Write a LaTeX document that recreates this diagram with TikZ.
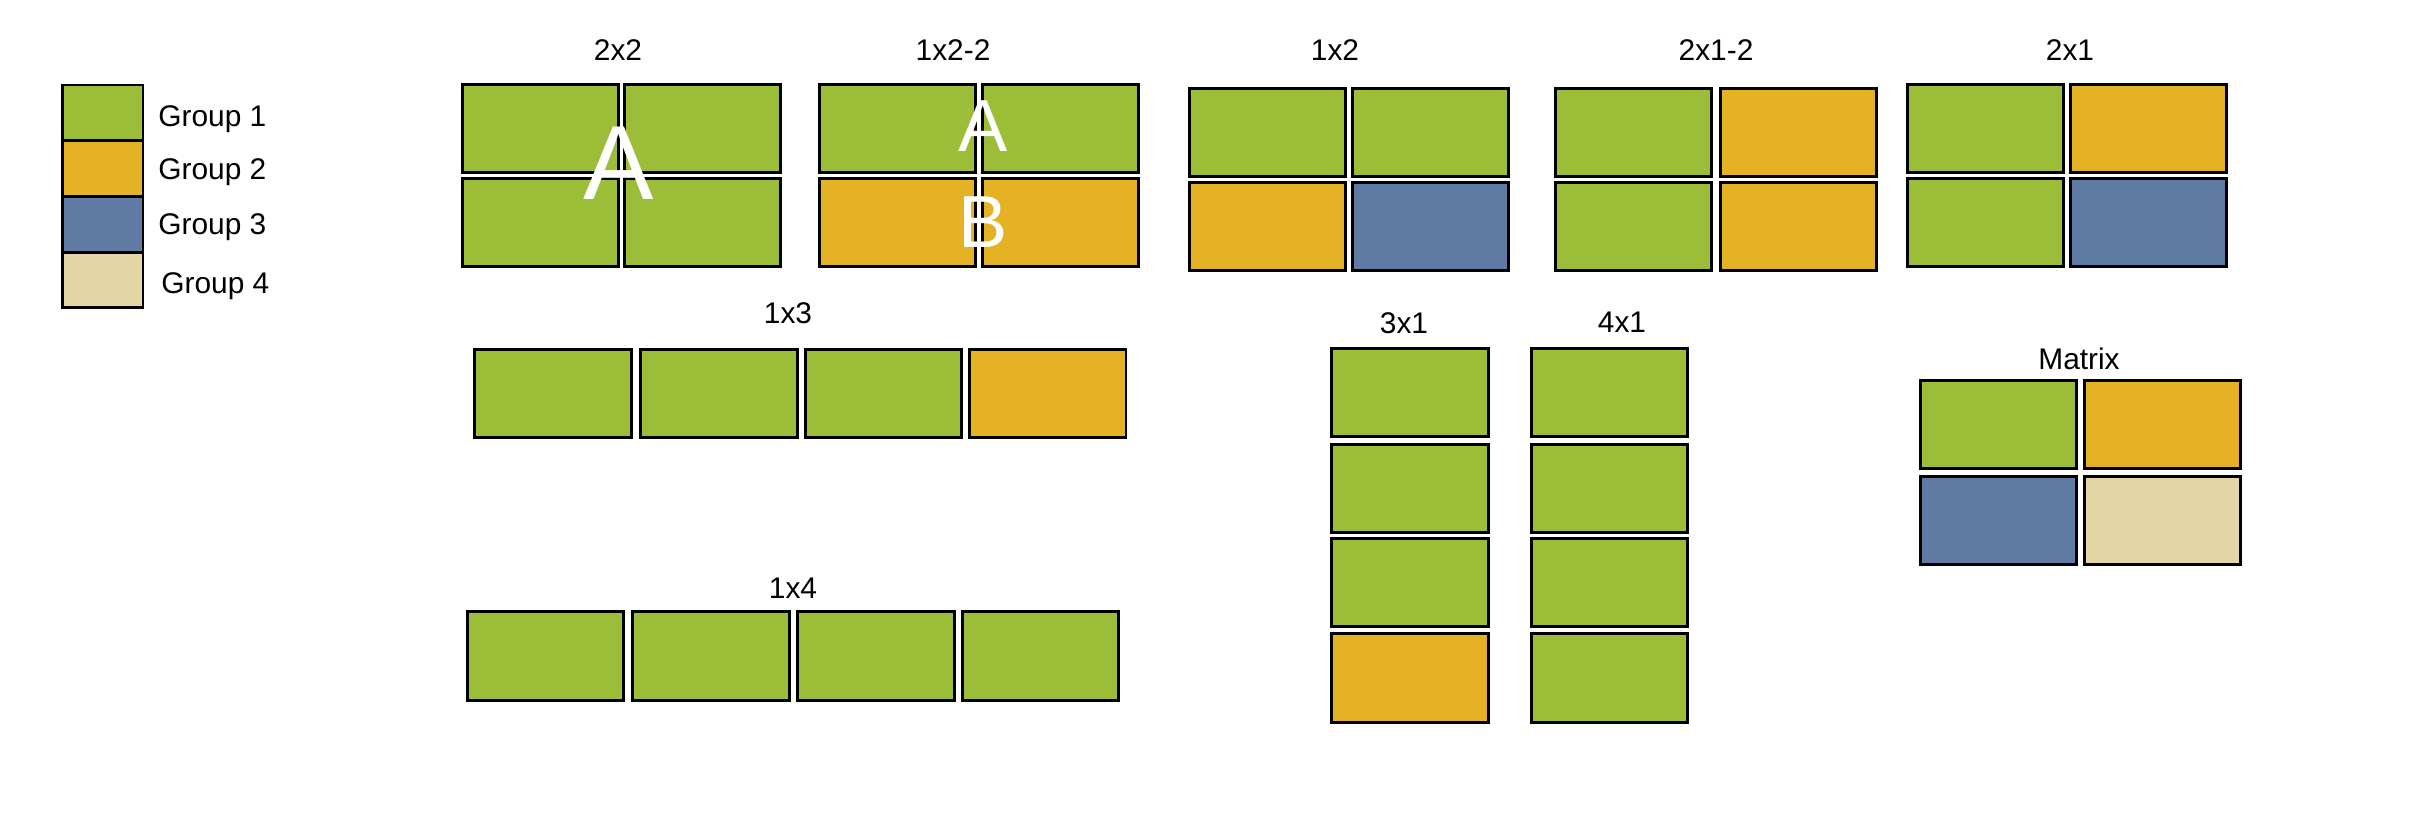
\documentclass[tikz,border=0pt]{standalone}
\usepackage{fontspec}
\setmainfont{Liberation Sans}
\usetikzlibrary{positioning}
\definecolor{grpone}{RGB}{156,189,56}
\definecolor{grptwo}{RGB}{229,178,38}
\definecolor{grpthree}{RGB}{95,123,163}
\definecolor{grpfour}{RGB}{227,214,164}

\begin{document}
\begin{tikzpicture}[x=0.2mm, y=-0.2mm,
  every node/.style={font=\fontsize{17}{20}\selectfont},
  cell/.style={draw=black, line width=1.5pt, inner sep=0pt,
               minimum width=31.3mm, minimum height=17.7mm},
  gone/.style={cell, fill=grpone},
  gtwo/.style={cell, fill=grptwo},
  gthree/.style={cell, fill=grpthree},
  gfour/.style={cell, fill=grpfour},
  swatch/.style={draw=black, line width=1.5pt, inner sep=0pt,
                 minimum width=16.1mm, minimum height=11mm},
  keytext/.style={anchor=base west, inner sep=0pt},
  blabel/.style={inner sep=0pt, text=black},
  bigletter/.style={text=white, inner sep=0pt, font=\fontsize{#1}{#1}\selectfont}
]
  \useasboundingbox (0,0) rectangle (2428,822);

  % --- Legend ---
  \node[swatch, fill=grpone]   (key1) at (102.8,112.5) {};
  \node[swatch, fill=grptwo]   (key2) at (102.8,168.5) {};
  \node[swatch, fill=grpthree] (key3) at (102.8,224.5) {};
  \node[swatch, fill=grpfour]  (key4) at (102.8,280)   {};
  \node[keytext] (key1t) at (158,126) {Group 1};
  \node[keytext] (key2t) at (158,179) {Group 2};
  \node[keytext] (key3t) at (158,234) {Group 3};
  \node[keytext] (key4t) at (161,293) {Group 4};

  % --- 2x2 ---
  \node[blabel] (l22) at (618,50) {2x2};
  \node[gone] (c22a) at (540.5,128.5) {};
  \node[gone] (c22b) at (702.5,128.5) {};
  \node[gone] (c22c) at (540.5,222.5) {};
  \node[gone] (c22d) at (702.5,222.5) {};
  \node[bigletter=60] (c22A) at (619,163.5) {A};

  % --- 1x2-2 ---
  \node[blabel] (l122) at (953,50) {1x2-2};
  \node[gone] (c122a) at (897.5,128.5) {};
  \node[gone] (c122b) at (1060.5,128.5) {};
  \node[gtwo] (c122c) at (897.5,222.5) {};
  \node[gtwo] (c122d) at (1060.5,222.5) {};
  \node[bigletter=42] (c122A) at (983,126) {A};
  \node[bigletter=42] (c122B) at (983,222) {B};

  % --- 1x2 ---
  \node[blabel] (l12) at (1335,50) {1x2};
  \node[gone]   (c12a) at (1267.5,132.5) {};
  \node[gone]   (c12b) at (1430.5,132.5) {};
  \node[gtwo]   (c12c) at (1267.5,226.5) {};
  \node[gthree] (c12d) at (1430.5,226.5) {};

  % --- 2x1-2 ---
  \node[blabel] (l212) at (1716,50) {2x1-2};
  \node[gone] (c212a) at (1633.5,132.5) {};
  \node[gtwo] (c212b) at (1798.5,132.5) {};
  \node[gone] (c212c) at (1633.5,226.5) {};
  \node[gtwo] (c212d) at (1798.5,226.5) {};

  % --- 2x1 ---
  \node[blabel] (l21) at (2070,50) {2x1};
  \node[gone]   (c21a) at (1985.5,128.5) {};
  \node[gtwo]   (c21b) at (2148.5,128.5) {};
  \node[gone]   (c21c) at (1985.5,222.5) {};
  \node[gthree] (c21d) at (2148.5,222.5) {};

  % --- 1x3 ---
  \node[blabel] (l13) at (788,313) {1x3};
  \node[gone] (c13a) at (553,393.5)    {};
  \node[gone] (c13b) at (719,393.5)    {};
  \node[gone] (c13c) at (883.5,393.5)  {};
  \node[gtwo] (c13d) at (1047.7,393.5) {};

  % --- 1x4 ---
  \node[blabel] (l14) at (793,588) {1x4};
  \node[gone] (c14a) at (545.5,656)  {};
  \node[gone] (c14b) at (711,656)    {};
  \node[gone] (c14c) at (876,656)    {};
  \node[gone] (c14d) at (1040.5,656) {};

  % --- 3x1 ---
  \node[blabel] (l31) at (1404,323) {3x1};
  \node[gone] (c31a) at (1410,392.5) {};
  \node[gone] (c31b) at (1410,488.5) {};
  \node[gone] (c31c) at (1410,582.5) {};
  \node[gtwo] (c31d) at (1410,678)   {};

  % --- 4x1 ---
  \node[blabel] (l41) at (1622,322) {4x1};
  \node[gone] (c41a) at (1609.5,392.5) {};
  \node[gone] (c41b) at (1609.5,488.5) {};
  \node[gone] (c41c) at (1609.5,582.5) {};
  \node[gone] (c41d) at (1609.5,678)   {};

  % --- Matrix ---
  \node[blabel] (lmat) at (2079,359) {Matrix};
  \node[gone]   (cma) at (1998.5,424.5) {};
  \node[gtwo]   (cmb) at (2162.5,424.5) {};
  \node[gthree] (cmc) at (1998.5,520.5) {};
  \node[gfour]  (cmd) at (2162.5,520.5) {};

\end{tikzpicture}
\end{document}
